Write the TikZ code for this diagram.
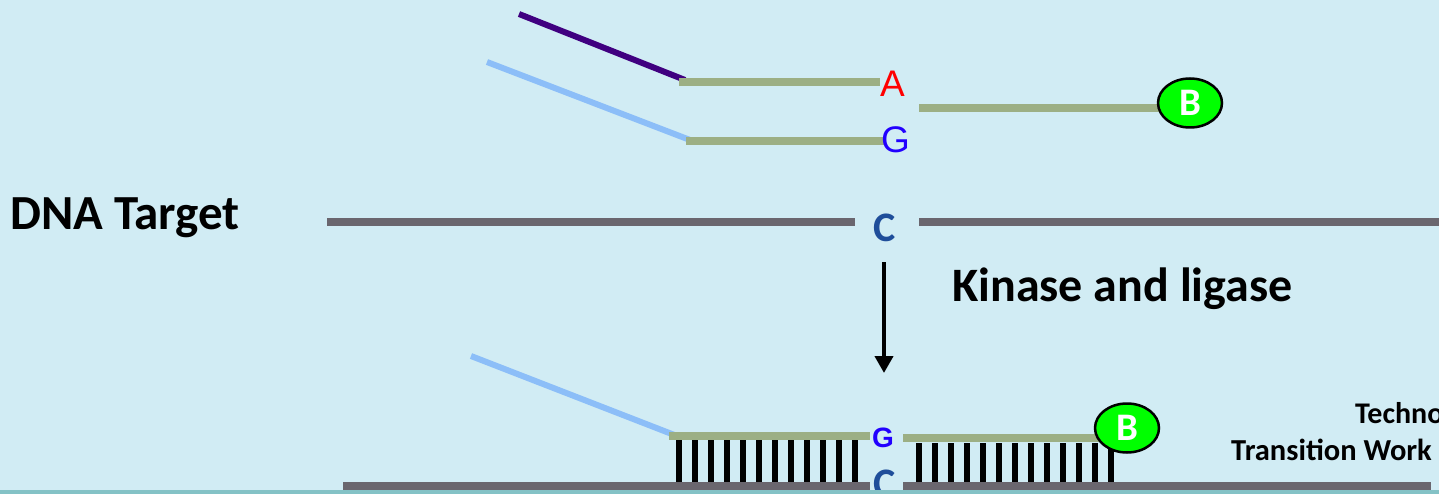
\documentclass[tikz,border=0pt]{standalone}
\usepackage{fontspec}
\setmainfont{Carlito}
\newfontfamily\arialfont{Liberation Sans}
\usepackage{tikz}
\usetikzlibrary{arrows.meta,shapes.geometric}

\definecolor{skybg}{HTML}{D1ECF4}
\definecolor{stripbg}{HTML}{84C2C6}
\definecolor{probeviolet}{HTML}{400080}
\definecolor{probeblue}{HTML}{8CBEF8}
\definecolor{oligo}{HTML}{9CAF84}
\definecolor{target}{HTML}{6A666E}
\definecolor{baseblue}{HTML}{2200FF}
\definecolor{cblue}{HTML}{1F4E9A}

\tikzset{
  strand/.style={line width=7.5pt},
  rung/.style={line width=5.5pt,black},
  bead/.style={ellipse,draw=black,line width=2.5pt,fill=green,text=white,
    minimum width=64pt,minimum height=49pt,inner sep=0pt,
    font=\bfseries\fontsize{39}{39}\selectfont},
  lbl/.style={inner sep=0pt,anchor=base west,font=\bfseries\fontsize{48}{48}\selectfont},
}

\begin{document}
\begin{tikzpicture}[x=1pt,y=-1pt]
\useasboundingbox (0,0) rectangle (1439,494);
\fill[skybg] (0,0) rectangle (1439,494);
% probes before ligation
\coordinate (vtail) at (519,14); \coordinate (vjoin) at (685,80);
\coordinate (btail) at (487,62); \coordinate (bjoin) at (690,140);
\draw[strand,line width=6pt,probeviolet] (vtail)--(vjoin);
\draw[strand,line width=6pt,probeblue] (btail)--(bjoin);
\draw[strand,oligo] (679,82)--(880,82);
\draw[strand,oligo] (686,141)--(885,141);
\node[inner sep=0pt,anchor=base west,red,font=\arialfont\fontsize{37}{37}\selectfont] (baseA) at (880,97) {A};
\node[inner sep=0pt,anchor=base west,baseblue,font=\arialfont\fontsize{37}{37}\selectfont] (baseG) at (881,153) {G};
\coordinate (arm1) at (1170,108);
\draw[strand,oligo] (919,108)--(arm1);
\node[bead] (bead1) at (1190,103) {B};
% target
\node[lbl,font=\bfseries\fontsize{49}{49}\selectfont] (dna) at (10,230) {DNA Target};
\draw[strand,target] (327,222)--(855,222);
\draw[strand,target] (919,222)--(1439,222);
\node[inner sep=0pt,anchor=base west,cblue,font=\bfseries\fontsize{42}{42}\selectfont] (baseC) at (873,241) {C};
% reaction step
\coordinate (stepfrom) at (884,262); \coordinate (stepto) at (884,373);
\draw[line width=4pt,-{Triangle[width=18pt,length=17pt]}] (stepfrom)--(stepto);
\node[lbl] (kin) at (952,301) {Kinase and ligase};
% ligated product
\coordinate (ltail) at (471,356); \coordinate (ljoin) at (677,436);
\draw[strand,line width=6pt,probeblue] (ltail)--(ljoin);
\foreach \i in {0,...,11} \draw[rung] (679+16*\i,440)--++(0,42);
\foreach \i in {0,...,12} \draw[rung] (919+16*\i,443)--++(0,39);
\draw[strand,oligo] (669,436)--(870,436);
\coordinate (arm2) at (1105,438);
\draw[strand,oligo] (903,438)--(arm2);
\node[bead] (bead2) at (1127,428) {B};
\node[inner sep=0pt,anchor=base west,baseblue,font=\arialfont\bfseries\fontsize{28}{28}\selectfont] (baseG2) at (872,447) {G};
\draw[strand,target] (343,486)--(870,486);
\draw[strand,target] (903,486)--(1431,486);
\node[inner sep=0pt,anchor=base west,cblue,font=\bfseries\fontsize{42}{42}\selectfont] (baseC2) at (873,497) {C};
\node[inner sep=0pt,anchor=base west,font=\bfseries\fontsize{30}{30}\selectfont] (foot1) at (1355,423) {Techno};
\node[inner sep=0pt,anchor=base west,font=\bfseries\fontsize{30.5}{30.5}\selectfont] (foot2) at (1231,460) {Transition Work};
\fill[stripbg] (0,490) rectangle (1439,494);
\end{tikzpicture}
\end{document}
